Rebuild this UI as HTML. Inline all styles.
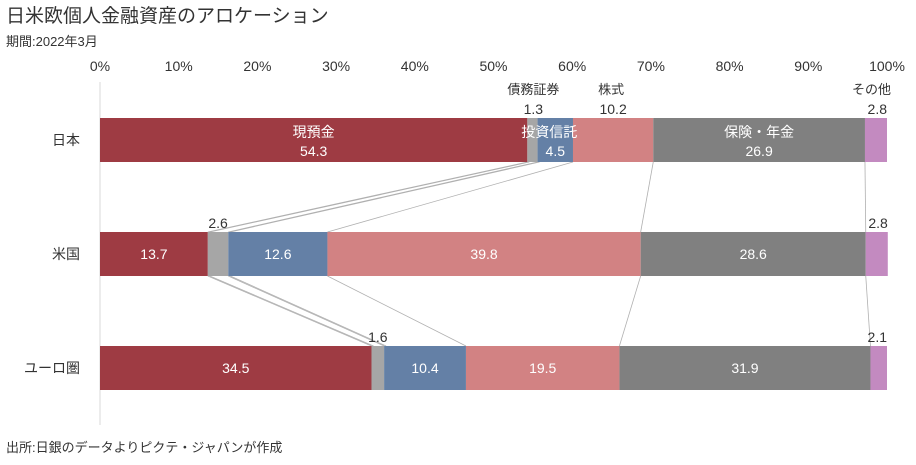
<!DOCTYPE html>
<html><head><meta charset="utf-8"><style>
body{margin:0;background:#fff;font-family:"Liberation Sans","Noto Sans CJK JP",sans-serif}
svg text{font-family:"Liberation Sans","Noto Sans CJK JP",sans-serif}
</style></head><body>
<svg id="c" width="916" height="460" xmlns="http://www.w3.org/2000/svg">
<text x="6" y="22" font-size="19" fill="#333">日米欧個人金融資産のアロケーション</text>
<text x="6" y="46" font-size="13" fill="#333">期間:2022年3月</text>
<text x="6" y="452" font-size="13" fill="#333">出所:日銀のデータよりピクテ・ジャパンが作成</text>
<line x1="100" y1="82" x2="100" y2="425" stroke="#d9d9d9"/>
</svg>
<script>
const categories=["日本","米国","ユーロ圏"];
const assetNames=["現預金","債務証券","投資信託","株式","保険・年金","その他"];
const japan=[54.3,1.3,4.5,10.2,26.9,2.8];
const us=[13.7,2.6,12.6,39.8,28.6,2.8];
const euro=[34.5,1.6,10.4,19.5,31.9,2.1];
const ticks=[0,10,20,30,40,50,60,70,80,90,100];
const series=[japan,us,euro];
const colors=["#9e3b43","#a6a6a6","#6480a6","#d28283","#808080","#c38ac0"];
const svg=document.getElementById('c');const NS="http://www.w3.org/2000/svg";
const x=v=>100+v*7.87;
const rowY=i=>118+i*114, H=44;
function mk(t,a,p){const e=document.createElementNS(NS,t);for(const k in a)e.setAttribute(k,a[k]);(p||svg).appendChild(e);return e;}
ticks.forEach(t=>{const e=mk('text',{x:x(t),y:71,'font-size':14,fill:'#333','text-anchor':'middle'});e.textContent=t+'%';

});
for(let r=0;r<2;r++){let a=0,b=0;for(let k=0;k<5;k++){a+=series[r][k];b+=series[r+1][k];
const l=mk('line',{x1:x(a),y1:rowY(r)+H,x2:x(b),y2:rowY(r+1),stroke:'#b0b0b0','stroke-width':0.8});


if(k<2){const l2=mk('line',{x1:x(a)+2,y1:rowY(r)+H,x2:x(b)+2,y2:rowY(r+1),stroke:'#b0b0b0','stroke-width':0.8});

}}}
series.forEach((s,r)=>{const y=rowY(r);let c=0;s.forEach((v,k)=>{
const rc=mk('rect',{x:x(c),y:y,width:x(c+v)-x(c),height:H,fill:colors[k]});


c+=v;});});
series.forEach((s,r)=>{const y=rowY(r);
const lab=mk('text',{x:80,y:y+H/2+5,'font-size':14,fill:'#333','text-anchor':'end'});lab.textContent=categories[r];


let c=0;s.forEach((v,k)=>{
const cx=(x(c)+x(c+v))/2;
if(k===1||k===5||(r===0&&k===3)){
 const px=k===5?x(c+v):(k===1&&r===0?x(c)+6:cx);
 if(r===0){const n=mk('text',{x:k===5?x(c+v)+4:(k===3?cx-2:px),y:y-24,'font-size':13,fill:'#333','text-anchor':k===5?'end':'middle'});n.textContent=assetNames[k];
 
 }
 const t=mk('text',{x:px,y:y-4,'font-size':14,fill:'#333','text-anchor':k===5?'end':'middle'});t.textContent=v.toFixed(1);
 
 
}else{
 if(r===0){const n=mk('text',{x:k===2?cx-6:cx,y:y+19,'font-size':14,fill:'#fff','text-anchor':'middle'});n.textContent=assetNames[k];
 
 
 const t=mk('text',{x:cx,y:y+38,'font-size':14,fill:'#fff','text-anchor':'middle'});t.textContent=v.toFixed(1);
 
 }
 else{const t=mk('text',{x:cx,y:y+H/2+5,'font-size':14,fill:'#fff','text-anchor':'middle'});t.textContent=v.toFixed(1);
 
 }
}
c+=v;});});
</script>
</body></html>
